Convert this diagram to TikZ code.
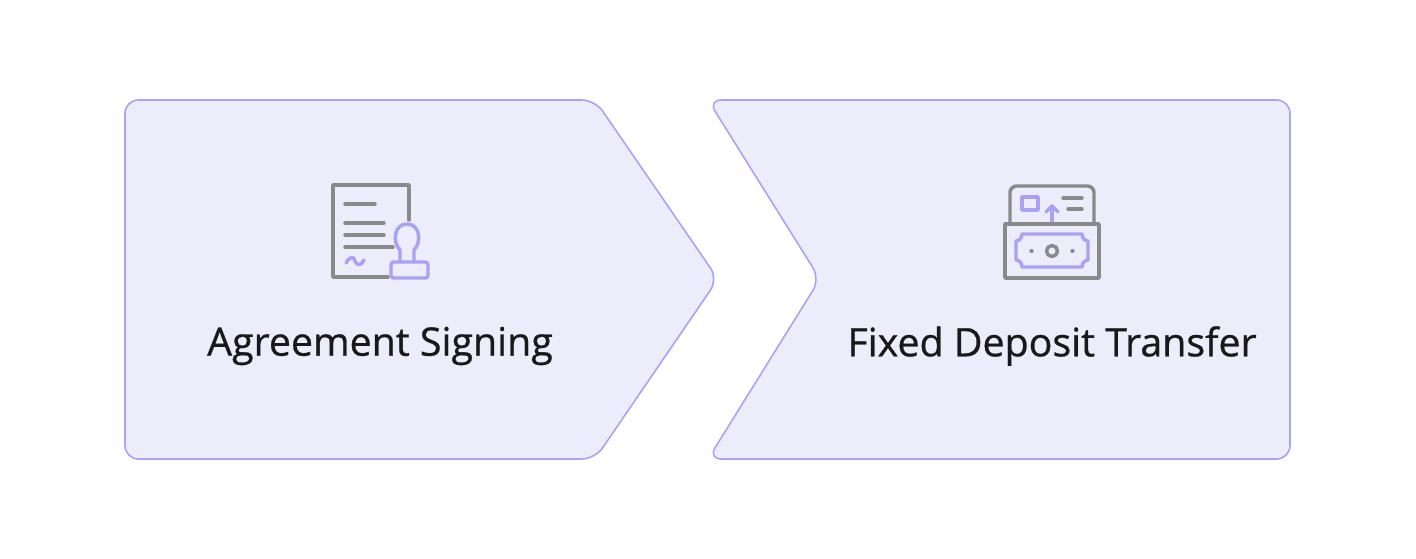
\documentclass[tikz,border=0pt]{standalone}
\usepackage{fontspec}
\setmainfont{Open Sans}
\newfontfamily\labelfont{Open Sans}[FakeBold=0.7,AutoFakeBold=0.7]
\definecolor{BoxFill}{HTML}{EDECFB}
\definecolor{BoxLine}{HTML}{A9A3F5}
\definecolor{IconGray}{HTML}{8A8A8A}
\definecolor{IconPurple}{HTML}{A7A2F5}
\tikzset{Step/.style={draw=BoxLine,fill=BoxFill,line width=1.2pt,rounded corners=10pt}}
\tikzset{Gray/.style={draw=IconGray,line width=2.6pt,line cap=round,line join=round}}
\tikzset{Purple/.style={draw=IconPurple,line width=2.6pt,line cap=round,line join=round}}
\tikzset{Label/.style={font=\labelfont\addfontfeature{FakeBold=0.7}\fontsize{29.5}{32}\selectfont,text=black!90}}
\begin{document}
\begin{tikzpicture}[x=0.75pt,y=-0.75pt]
\useasboundingbox (0,0) rectangle (1416,558);

\draw[Step] (125,100) -- (595,100) -- (718,279) -- (595,459) -- (125,459) -- cycle;
\draw[Step] (708,100) -- (1290,100) -- (1290,459) -- (708,459) -- (820,279) -- cycle;

% agreement icon
\draw[Gray] (409,220) -- (409,185) -- (333,185) -- (333,277) -- (388,277);
\draw[Gray] (345,204) -- (375,204);
\draw[Gray] (345,223) -- (384,223);
\draw[Gray] (345,235) -- (384,235);
\draw[Gray] (345,247) -- (393,247);
\draw[Purple] (346,263) .. controls (350,256) and (354,256) .. (355,261) .. controls (357,266) and (361,266) .. (364,260);
\draw[Purple] (400,262) -- (400,250) .. controls (392,242) and (394,224) .. (407,224) .. controls (420,224) and (422,242) .. (414,250) -- (414,262);
\draw[Purple,rounded corners=2pt] (391,262) rectangle (428,278);

% deposit icon
\draw[Gray,rounded corners=5pt] (1010,224) -- (1010,186) -- (1094,186) -- (1094,224);
\draw[Purple] (1022,197) rectangle (1038,210);
\draw[Purple] (1052,222) -- (1052,206);
\draw[Purple] (1046,212) -- (1052,206) -- (1058,212);
\draw[Gray] (1063,198) -- (1082,198);
\draw[Gray] (1068,209) -- (1082,209);
\draw[Gray] (1005,224) rectangle (1099,278);
\draw[Purple] (1022,234) -- (1082,234) .. controls (1082,238) and (1085,241) .. (1088,241) -- (1088,260) .. controls (1085,260) and (1082,263) .. (1082,267) -- (1022,267) .. controls (1022,263) and (1019,260) .. (1016,260) -- (1016,241) .. controls (1019,241) and (1022,238) .. (1022,234) -- cycle;
\draw[Gray] (1052,251) circle (5.5);
\draw[Gray] (1031,251) -- (1032,251);
\draw[Gray] (1072,251) -- (1073,251);

\node[Label] (A) at (380,346) {Agreement Signing};
\node[Label] (F) at (1052,346) {Fixed Deposit Transfer};
\end{tikzpicture}
\end{document}
